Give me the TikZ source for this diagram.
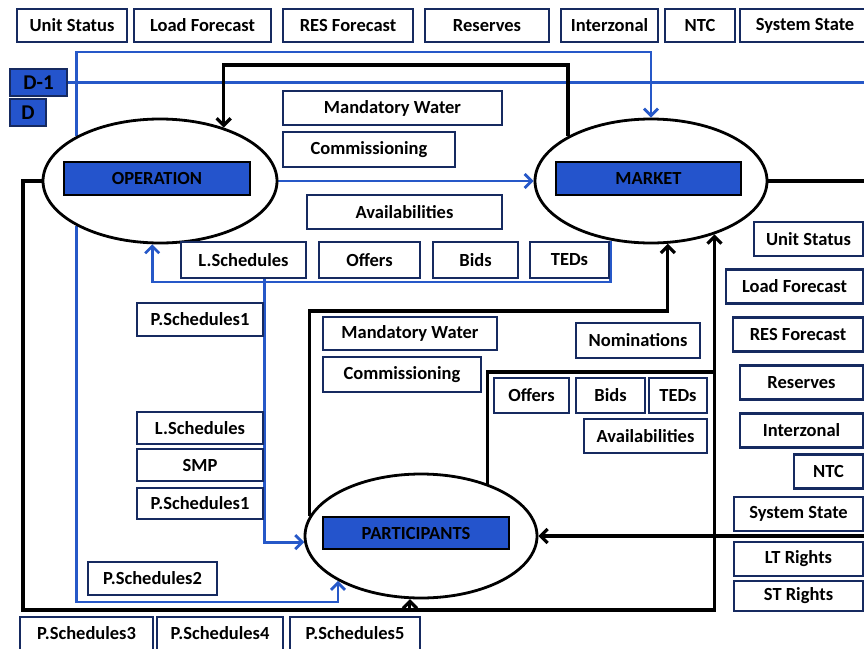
\documentclass[tikz,border=0pt]{standalone}
\usepackage{fontspec}
\setmainfont{Carlito}
\usepackage{xcolor}
\usepackage{tikz}
\usetikzlibrary{arrows.meta,shapes.geometric,backgrounds}

\definecolor{boxline}{RGB}{22,42,96}
\definecolor{barblue}{RGB}{36,84,204}
\definecolor{flowblue}{RGB}{38,88,200}

\tikzset{
  bx/.style={draw=boxline, line width=2.3pt, fill=white, inner sep=0pt, minimum height=34, font=\fontsize{18.5}{22}\selectfont\bfseries},
  headbar/.style={draw=black, line width=2.3pt, fill=barblue, inner sep=0pt, minimum height=33, font=\fontsize{18.5}{22}\selectfont\bfseries},
  actor/.style={ellipse, draw=black, line width=2.8pt, fill=white, inner sep=0pt, minimum width=232, minimum height=124},
  bflow/.style={flowblue, line width=2.8pt},
  kflow/.style={black, line width=3.2pt},
  arr/.style={-{Straight Barb[length=7pt,width=14pt]}}
}

\begin{document}
\begin{tikzpicture}[x=1pt, y=-1pt]
\useasboundingbox (0,0) rectangle (864,648);

% Actors
\node[actor, minimum width=234] (op) at (160,181) {};
\node[actor] (mk) at (651,181) {};
\node[actor] (pa) at (421,536) {};
\node[headbar, minimum width=186] (opl) at (157,178.5) {OPERATION};
\node[headbar, minimum width=185] (mkl) at (648.5,178.5) {MARKET};
\node[headbar, minimum width=186, minimum height=32] (pal) at (416,533) {PARTICIPANTS};

% Day markers
\node[headbar, draw=boxline, minimum width=57, minimum height=27, font=\fontsize{21}{24}\selectfont\bfseries] (d1) at (38.5,82.5) {D-1};
\node[headbar, draw=boxline, minimum width=36, minimum height=27, font=\fontsize{21}{24}\selectfont\bfseries] (d0) at (28,112.5) {D};

% Top row of inputs
\foreach \nm/\x/\w/\txt in {tus/72/110/Unit Status, tlf/202.5/137/Load Forecast, trf/348/130/RES Forecast,
    trs/487/124/Reserves, tiz/609.5/97/Interzonal, tntc/700/70/NTC, tss/805/130/System State}
  \node[bx, minimum width=\w, minimum height=33] (\nm) at (\x,25.5) {\txt};

% Right column of inputs
\foreach \nm/\x/\y/\w/\txt in {rus/808.5/239/109/Unit Status, rlf/794.5/286.5/137/Load Forecast,
    rrf/798/334.5/130/RES Forecast, rrs/801.5/382.5/123/Reserves, riz/801.5/430.5/123/Interzonal,
    rntc/828.5/471.5/69/NTC, rss/798.5/514/129/System State, rlt/798.5/559/129/LT Rights}
  \node[bx, minimum width=\w] (\nm) at (\x,\y) {\txt};
\node[bx, minimum width=129, minimum height=30] (rst) at (798.5,596) {ST Rights};

% Operation <-> market data
\node[bx, minimum width=219] (mw1) at (392.5,108) {Mandatory Water};
\node[bx, minimum width=172, minimum height=35] (cm1) at (369,149.5) {Commissioning};
\node[bx, minimum width=195] (av1) at (404.5,212) {Availabilities};
\node[bx, minimum width=125, minimum height=36] (ls1) at (243.5,260) {L.Schedules};
\node[bx, minimum width=101, minimum height=36] (of1) at (369.5,260) {Offers};
\node[bx, minimum width=85, minimum height=36] (bd1) at (475.5,260) {Bids};
\node[bx, minimum width=79, minimum height=36] (td1) at (569.5,260) {TEDs};

% Participants -> market data
\node[bx, minimum width=174, minimum height=33] (mw2) at (410,333.5) {Mandatory Water};
\node[bx, minimum width=158, minimum height=35] (cm2) at (402,374.5) {Commissioning};
\node[bx, minimum width=124, minimum height=35] (nm) at (638,340.5) {Nominations};
\node[bx, minimum width=75, minimum height=35] (of2) at (531.5,395.5) {Offers};
\node[bx, minimum width=69, minimum height=35] (bd2) at (610.5,395.5) {Bids};
\node[bx, minimum width=58, minimum height=35] (td2) at (678,395.5) {TEDs};
\node[bx, minimum width=123] (av2) at (645.5,436) {Availabilities};

% Schedules to participants
\node[bx, minimum width=126, minimum height=33] (ps1a) at (200,319.5) {P.Schedules1};
\node[bx, minimum width=126, minimum height=32] (ls2) at (200,428) {L.Schedules};
\node[bx, minimum width=126, minimum height=32] (smp) at (200,465) {SMP};
\node[bx, minimum width=126, minimum height=31] (ps1b) at (200,503.5) {P.Schedules1};
\node[bx, minimum width=129, minimum height=33] (ps2) at (152.5,578.5) {P.Schedules2};
\node[bx, minimum width=133, minimum height=33] (ps3) at (86.5,633.5) {P.Schedules3};
\node[bx, minimum width=126, minimum height=33] (ps4) at (220,633.5) {P.Schedules4};
\node[bx, minimum width=130, minimum height=33] (ps5) at (355,633.5) {P.Schedules5};

% Routing levels
\coordinate (hiY) at (0,52);
\coordinate (tpY) at (0,65);
\coordinate (midY) at (0,282);
\coordinate (nwY) at (0,311);
\coordinate (neY) at (0,372);
\coordinate (loY) at (0,602);
\coordinate (btY) at (0,610);
\coordinate (lfX) at (23,0);
\coordinate (rtX) at (864,0);

% Flows
\begin{scope}[on background layer]
\draw[bflow, arr] (op.north west) |- (hiY -| mk.north) -- (mk.north);
\draw[bflow, arr] (op.south west) |- (loY -| pa.south west) -- (pa.south west);
\draw[bflow] (d1.east) -- (d1.east -| rtX);
\draw[bflow, arr] (op.east) -- (mk.west);
\draw[bflow, arr] (td1.north east) |- (midY -| op.263) -- (op.263);
\draw[bflow, arr] (ls1.south -| ps1a.east) |- (pa.183);
\draw[kflow, arr] (mk.north west) |- (tpY -| op.40) -- (op.40);
\draw[kflow, arr] (op.west) -| (lfX |- btY) -- (btY -| mk.-40) -- (mk.-40);
\draw[kflow, arr] (btY -| pa.260) -- (pa.260);
\draw[kflow] (mk.east) -- (mk.east -| rtX);
\draw[kflow, arr] (pa.east -| rtX) -- (pa.east);
\draw[kflow, arr] (pa.170) |- (nwY -| mk.-75) -- (mk.-75);
\draw[kflow] (pa.38) |- (neY -| mk.-40);
\end{scope}

\end{tikzpicture}
\end{document}
